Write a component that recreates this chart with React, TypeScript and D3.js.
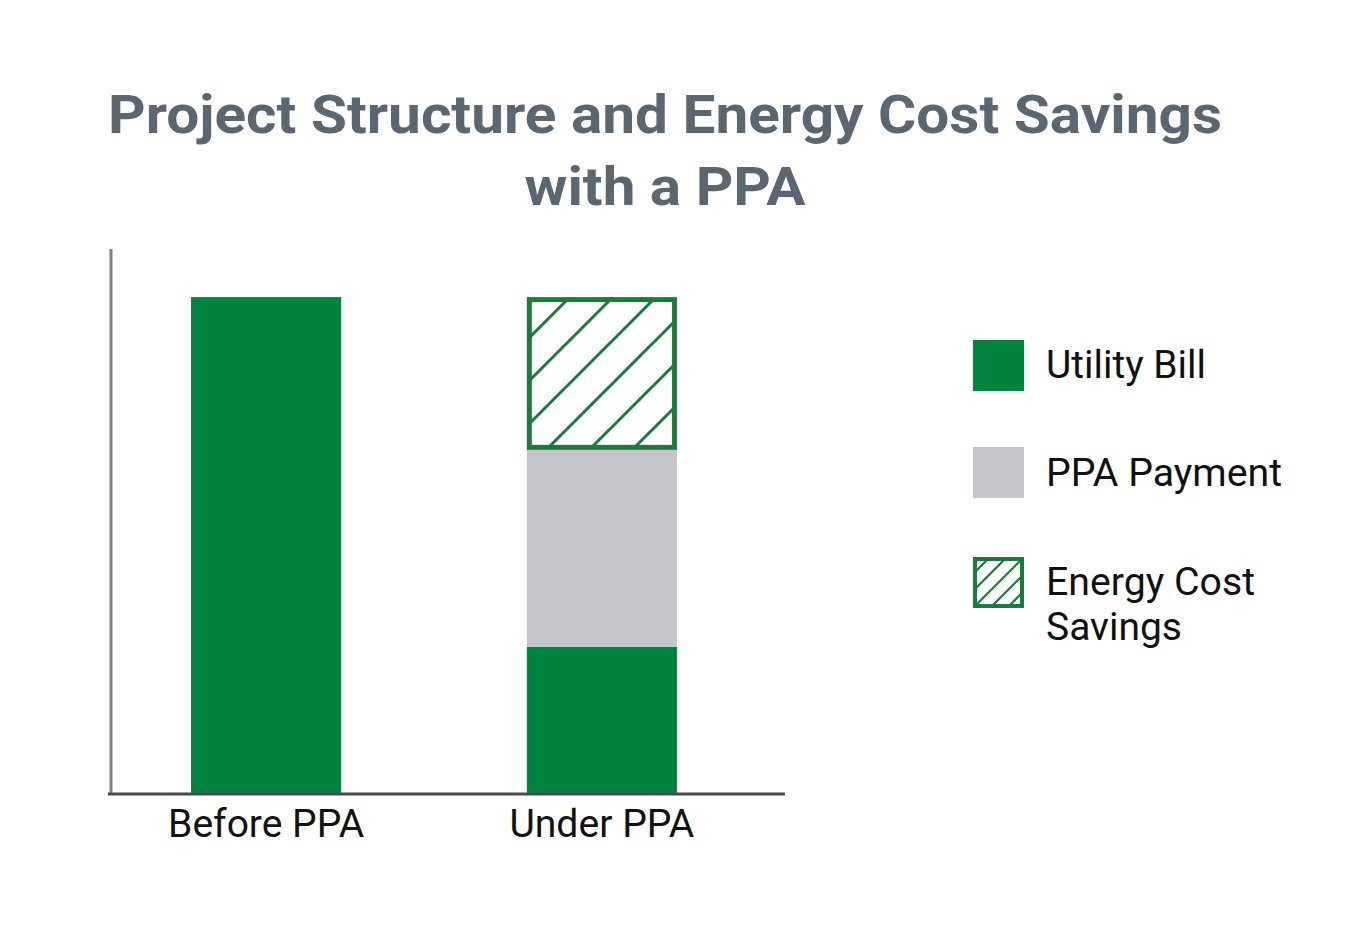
import React from "react";
import * as d3 from "d3";

const categories = ["Before PPA", "Under PPA"];
const seriesNames = ["Utility Bill", "PPA Payment", "Energy Cost Savings"];
const utilityBill = [100, 29.5];
const ppaPayment = [0, 39.7];
const energySavings = [0, 30.8];
const titleLines = ["Project Structure and Energy Cost Savings", "with a PPA"];

const GREEN = "#00843d";
const GREY = "#c4c6c9";
const HATCH = "#1b7a3c";

export default function App() {
  const W = 1350;
  const H = 946;
  const x = d3.scaleBand<string>().domain(categories).range([110, 758]).paddingInner(0.553).paddingOuter(0.2414);
  const y = d3.scaleLinear().domain([0, 109.5]).range([793, 250]);

  const stackData = categories.map((c, i) => ({
    cat: c,
    "Utility Bill": utilityBill[i],
    "PPA Payment": ppaPayment[i],
    "Energy Cost Savings": energySavings[i],
  }));
  const stacked = d3.stack<any>().keys(seriesNames)(stackData);
  const fills: Record<string, string> = {
    "Utility Bill": GREEN,
    "PPA Payment": GREY,
    "Energy Cost Savings": "url(#hatch)",
  };

  const legendY = [340, 447, 557];
  const legendText: string[][] = [["Utility Bill"], ["PPA Payment"], ["Energy Cost", "Savings"]];
  const legendLens: number[][] = [[160], [236], [209, 136]];
  const legendBase = [378, 486, 595];

  return (
    <svg width={W} height={H} style={{ position: "absolute", left: 0, top: 0, background: "#fff" }}>
      <defs>
        <pattern id="hatch" patternUnits="userSpaceOnUse" width={43} height={43} x={7} y={0}>
          <rect width={43} height={43} fill="#fff" />
          <path d="M-5,48 L48,-5 M-10,10 L10,-10 M33,53 L53,33" stroke={HATCH} strokeWidth={3} />
        </pattern>
        <pattern id="hatchSmall" patternUnits="userSpaceOnUse" width={17} height={17} x={973} y={557}>
          <rect width={17} height={17} fill="#fff" />
          <path d="M-3,20 L20,-3 M-5,5 L5,-5 M12,22 L22,12" stroke={HATCH} strokeWidth={2.2} />
        </pattern>
      </defs>

      {titleLines.map((t, i) => (
        <text
          key={t}
          x={665}
          y={i === 0 ? 133 : 205}
          textAnchor="middle"
          fontFamily="Roboto"
          fontWeight="bold"
          fontSize={54}
          fill="#5b6770"
          textLength={i === 0 ? 1114 : 281}
          lengthAdjust="spacingAndGlyphs"
        >
          {t}
        </text>
      ))}

      {stacked.map((layer) =>
        layer.map((d, i) => {
          const h = y(d[0]) - y(d[1]);
          if (h <= 0) return null;
          const isHatch = layer.key === "Energy Cost Savings";
          const bx = x(categories[i])!;
          const bw = x.bandwidth();
          return isHatch ? (
            <rect
              key={layer.key + i}
              x={bx + 2.5}
              y={y(d[1]) + 2.5}
              width={bw - 5}
              height={h - 5}
              fill={fills[layer.key]}
              stroke={HATCH}
              strokeWidth={5}
            />
          ) : (
            <rect
              key={layer.key + i}
              x={bx}
              y={y(d[1])}
              width={bw}
              height={h}
              fill={fills[layer.key]}
            />
          );
        })
      )}

      <line x1={111} x2={111} y1={249} y2={795} stroke="#808080" strokeWidth={3} />
      <line x1={108} x2={785} y1={794} y2={794} stroke="#4a4a4a" strokeWidth={3} />

      {categories.map((c, i) => (
        <text
          key={c}
          x={x(c)! + x.bandwidth() / 2}
          y={837}
          textAnchor="middle"
          fontFamily="Roboto"
          fontSize={38}
          fill="#111"
          textLength={i === 0 ? 196 : 185}
          lengthAdjust="spacingAndGlyphs"
        >
          {c}
        </text>
      ))}

      {seriesNames.map((s, i) => (
        <g key={s}>
          {i === 2 ? (
            <rect x={975} y={legendY[i] + 2} width={47} height={47} fill="url(#hatchSmall)" stroke={HATCH} strokeWidth={4} />
          ) : (
            <rect x={973} y={legendY[i]} width={51} height={51} fill={i === 0 ? GREEN : GREY} />
          )}
          {legendText[i].map((t, j) => (
            <text
              key={t}
              x={1046}
              y={legendBase[i] + j * 45}
              fontFamily="Roboto"
              fontSize={38}
              fill="#111"
              textLength={legendLens[i][j]}
              lengthAdjust="spacingAndGlyphs"
            >
              {t}
            </text>
          ))}
        </g>
      ))}
    </svg>
  );
}
